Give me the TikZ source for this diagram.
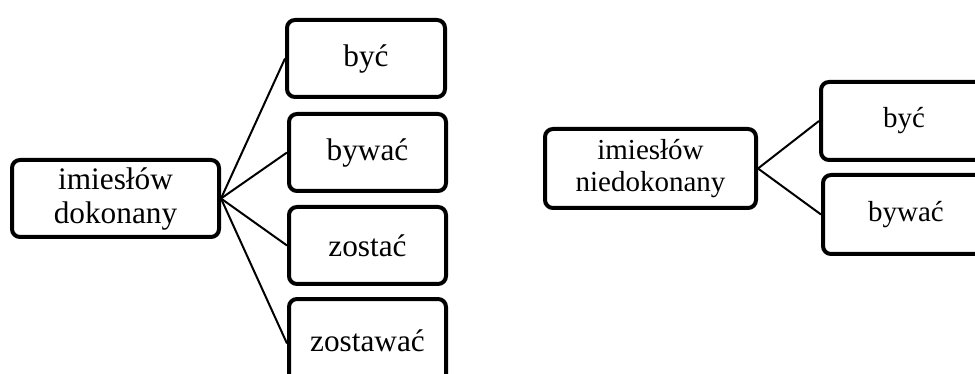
\documentclass[tikz,border=0pt]{standalone}
\usepackage{fontspec}
\setmainfont{Liberation Serif}
\begin{document}
\begin{tikzpicture}[x=1pt,y=-1pt,
  box/.style={draw=black, line width=4pt, rounded corners=8pt, align=center,
              inner sep=0pt, anchor=center},
  big/.style={box, font=\fontsize{31.3}{34}\selectfont},
  small/.style={box, font=\fontsize{29}{31.7}\selectfont},
  link/.style={draw=black, line width=2pt}]
  \clip (0,0) rectangle (975,374);
  \useasboundingbox (0,0) rectangle (975,374);

  % perfective participle and its auxiliaries
  \node[big, minimum width=207pt, minimum height=77pt] (pd) at (115.5,198.5) {imiesłów\\dokonany};
  \node[big, minimum width=158pt, minimum height=77pt] (a1) at (366,58.5) {być};
  \node[big, minimum width=157pt, minimum height=77pt] (a2) at (367.5,152.5) {bywać};
  \node[big, minimum width=157pt, minimum height=77pt] (a3) at (367.5,245.5) {zostać};
  \node[big, minimum width=157pt, minimum height=84pt] (a4) at (367.5,341) {zostawać};
  \foreach \t in {a1,a2,a3} \draw[link] (pd.east) -- (\t.west);
  \draw[link] (pd.east) -- ([yshift=-2.5pt]a4.west);

  % imperfective participle and its auxiliaries
  \node[small, minimum width=211pt, minimum height=79pt] (pn) at (650.5,168.5) {imiesłów\\niedokonany};
  \node[small, minimum width=166pt, minimum height=78pt] (b1) at (904,121) {być};
  \node[small, minimum width=166pt, minimum height=79pt] (b2) at (906,214.5) {bywać};
  \foreach \t in {b1,b2} \draw[link] (pn.east) -- (\t.west);
\end{tikzpicture}
\end{document}
